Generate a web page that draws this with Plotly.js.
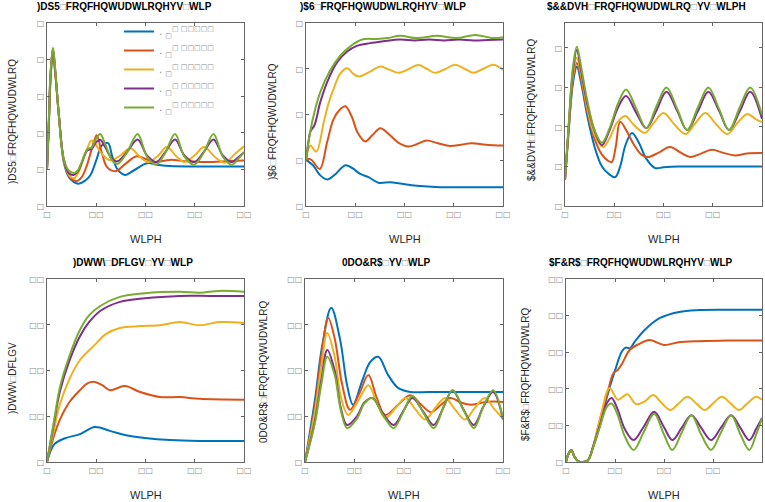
<!DOCTYPE html>
<html><head><meta charset="utf-8">
<script src="https://cdn.plot.ly/plotly-3.0.1.min.js"></script>
<style>html,body{margin:0;padding:0;background:#fff}#chart{width:765px;height:502px}</style>
</head><body><div id="chart"></div>
<script>
// ---------- DATA ----------
const seriesNames = [". <sub>□</sub><sup>□ □□□□□</sup>", ". <sub>□</sub><sup>□ □□□□□</sup>", ". <sub>□</sub><sup>□ □□□□□</sup>", ". <sub>□</sub><sup>□ □□□□□</sup>", ". <sub>□</sub><sup>□ □□□□□</sup>"];
const xTickVals = [0, 10, 20, 30, 40];
const xTickText = ["□", "□□", "□□", "□□", "□□"];

// Panel 1: FapR
const fapR_t_blue = [0,0.35,0.7,1.2,1.7,2.4,3.4,4.4,5.4,6.4,7.6,8.8,10.1,11.1,12.4,13.2,14.3,15.9,17.6,20.3,22.3,25,30,35,40];
const fapR_blue   = [1,2.1,3.4,4.2,3.6,2.5,1.2,0.8,0.66,0.61,0.68,0.84,1.29,1.65,1.72,1.38,1.0,0.85,0.97,1.17,1.13,1.09,1.08,1.08,1.08];
const fapR_t_orange = [0,0.35,0.7,1.2,1.7,2.4,3.4,4.4,5.2,6.1,7.1,8.1,9.5,10.1,11.1,12.2,13.9,15.9,18.2,20.3,22,25,28.4,32.4,37.2,40];
const fapR_orange   = [1,2.15,3.45,4.25,3.6,2.5,1.25,0.85,0.72,0.68,0.8,1.11,1.75,1.93,1.47,1.06,0.95,1.15,1.36,1.27,1.2,1.26,1.22,1.2,1.23,1.24];
const fapR_t_yellow = [0,0.35,0.7,1.2,1.7,2.4,3.4,4.4,5.5,6.5,7.4,8.4,9,9.8,11.1,12.8,14.9,16.9,18.9,20.6,22.6,24.3,26.4,28,30.1,31.9,34.1,36.1,38.2,40];
const fapR_yellow   = [1,2.2,3.5,4.28,3.6,2.5,1.25,0.86,0.76,0.95,1.29,1.65,1.79,1.7,1.43,1.25,1.38,1.58,1.34,1.2,1.38,1.61,1.34,1.2,1.4,1.61,1.34,1.18,1.43,1.63];
const fapR_t_purple = [0,0.35,0.7,1.2,1.7,2.4,3.4,4.4,5.4,6.3,7.1,8.2,9.1,10,10.8,11.8,13.2,14.3,16.2,18.4,20.3,22.2,24,26,27.9,29.9,31.8,33.8,35.7,37.5,38.9,40];
const fapR_purple   = [1,2.2,3.55,4.3,3.65,2.5,1.28,0.9,0.85,0.95,1.2,1.52,1.56,1.75,1.81,1.61,1.29,1.22,1.47,1.82,1.38,1.2,1.47,1.82,1.38,1.2,1.47,1.82,1.38,1.2,1.34,1.47];
const fapR_t_green = [0,0.35,0.7,1.2,1.7,2.4,3.4,4.4,5.6,6.3,7.1,8.2,9.1,10,10.8,11.8,13.2,14.3,16.2,18.4,20.3,22.2,24,26,27.9,29.9,31.8,33.8,35.7,37.5,38.9,40];
const fapR_green   = [1,2.25,3.6,4.32,3.7,2.47,1.29,0.97,0.9,0.98,1.22,1.55,1.6,1.85,1.97,1.7,1.25,1.15,1.45,1.97,1.35,1.13,1.45,1.97,1.35,1.13,1.45,1.97,1.35,1.13,1.3,1.47];

// Panel 2: FAS
const fas_t_blue = [0,0.5,1.5,2.8,4.3,5.8,8,9.5,11,12.7,14.7,17.1,19.1,22.5,27.2,32,40];
const fas_blue   = [1,0.97,0.88,0.68,0.58,0.68,0.89,0.82,0.7,0.63,0.51,0.52,0.49,0.44,0.41,0.41,0.41];
const fas_t_orange = [0,0.5,1.2,2.8,4.3,5.6,7,8,9.3,10.5,12,13.5,15.1,17,18.8,20.8,22.7,24.5,26.8,29.3,31.5,33.6,36.5,40];
const fas_orange   = [1,1.03,1.0,0.81,1.4,1.9,2.12,2.18,1.95,1.6,1.41,1.55,1.7,1.55,1.38,1.3,1.36,1.43,1.37,1.31,1.34,1.37,1.34,1.32];
const fas_t_yellow = [0,0.5,0.9,2.1,3.6,4.6,5.6,7,8.4,9.5,10.7,12.9,15.1,16.9,18.8,20.8,22.8,24.5,26.2,28.2,30.3,32.2,34,36,38,40];
const fas_yellow   = [1,1.25,1.32,1.19,1.83,2.25,2.56,2.9,3.01,2.9,2.83,2.93,3.05,2.98,2.91,2.99,3.08,3.0,2.91,2.99,3.09,3.0,2.91,3.0,3.09,2.98];
const fas_t_purple = [0,0.5,0.9,1.7,2.9,4.3,6.3,8.3,10.3,13,15.7,19.1,22,25,28,31,34,37,40];
const fas_purple   = [1,1.4,1.63,1.76,2.27,2.71,3.14,3.37,3.5,3.56,3.6,3.64,3.62,3.64,3.62,3.64,3.62,3.63,3.64];
const fas_t_green = [0,0.5,1.55,2.9,4.9,7,9,11.4,14.4,16.5,19.1,22.5,26.6,30.6,34.3,38,40];
const fas_green   = [1,1.4,1.98,2.49,2.96,3.29,3.49,3.64,3.65,3.67,3.72,3.67,3.72,3.67,3.74,3.67,3.69];

// Panel 3: ACCase
const acc_t_blue = [0,0.8,1.6,2.4,3.3,4.5,6,7.5,9,10.2,11.2,12.3,13.6,15,16.5,18.3,20,23,28,34,40];
const acc_blue   = [0.66,2.0,3.1,3.52,3.1,2.3,1.5,1.0,0.8,0.73,1.0,1.55,1.85,1.6,1.2,0.96,0.98,1.0,1.0,1.0,1.0];
const acc_t_orange = [0,0.8,1.6,2.4,3.3,4.5,6,7.5,8.7,9.5,10.3,11.2,12.5,14,15.5,16.9,19,21.3,23.5,25.4,27.5,29.8,32,34.5,37,40];
const acc_orange   = [0.66,2.0,3.2,3.62,3.2,2.4,1.7,1.3,1.15,1.11,1.5,2.13,1.9,1.55,1.3,1.24,1.35,1.49,1.35,1.24,1.32,1.42,1.35,1.28,1.33,1.34];
const acc_t_yellow = [0,0.8,1.6,2.4,3.3,4.5,6,7.7,9,10.5,12.2,14,16.2,18,20,22.3,24.5,26.5,28.5,30.8,33,35,37,38.7,40];
const acc_yellow   = [0.66,2.1,3.3,3.75,3.3,2.5,1.8,1.49,1.7,2.1,2.28,2.05,1.85,2.1,2.35,2.05,1.82,2.1,2.35,2.05,1.82,2.1,2.33,2.2,2.12];
const acc_t_purple = [0,0.8,1.6,2.4,3.3,4.5,6,7.5,9,10.8,12.4,14.5,16.5,18.5,20.6,22.8,24.8,27,29.1,31.3,33.3,35.5,37.6,40];
const acc_purple   = [0.66,2.1,3.4,3.95,3.4,2.6,1.9,1.54,1.9,2.5,2.78,2.35,1.97,2.4,2.89,2.4,1.92,2.4,2.89,2.4,1.92,2.4,2.89,2.2];
const acc_t_green = [0,0.8,1.6,2.4,3.3,4.5,6,7.5,9,10.8,12.4,14.5,16.5,18.5,20.6,22.8,24.8,27,29.1,31.3,33.3,35.5,37.6,40];
const acc_green   = [0.66,2.15,3.5,4.03,3.5,2.68,1.92,1.6,1.95,2.6,2.95,2.45,1.97,2.5,3.0,2.45,1.92,2.5,3.0,2.45,1.92,2.5,3.0,2.3];

// Panel 4: Fatty acids
const fa_t_blue = [0,1.5,3.7,6.7,9.7,12.8,15.8,19.9,25,31,40];
const fa_blue   = [0,3.9,5.2,6.1,7.65,6.8,5.9,5.25,4.8,4.6,4.6];
const fa_t_orange = [0,1.5,2.6,4.5,6.7,8.2,9.7,11.2,12.8,15.8,18.9,22.9,27,31,40];
const fa_orange   = [0,6,9.2,13,15.7,17.2,17.5,16.8,15.7,16.6,15.3,14.2,14.2,13.8,13.6];
const fa_t_yellow = [0,1.5,2.6,4.5,6.7,9.7,12,14.8,18.9,22.9,27,31,35,40];
const fa_yellow   = [0,7.5,12.5,18,22.3,25.6,28,29.3,29.7,29.9,30.6,29.9,30.6,30.4];
const fa_t_purple = [0,1.5,2.6,4.5,6.7,8.5,10.8,14.8,19.9,27,33,40];
const fa_purple   = [0,9,15.3,22,27.5,30.5,33,35,35.8,36.3,36.3,36.3];
const fa_t_green = [0,1.5,2.6,4.5,6.7,8.5,10.8,14.8,19.9,27,31,35,40];
const fa_green   = [0,9.5,16.2,23,28.9,32,34.1,36.1,36.9,37.2,37.0,37.4,37.2];

// Panel 5: MalCoA
const mal_t_blue = [0,2,3.5,5.3,7.1,8.5,9.7,11.6,13.2,14.8,16.8,18.8,21.3,25,30,35,40];
const mal_blue   = [0,13.5,25.6,33.7,26.7,16.8,12.5,17.9,21.9,23,19,16.2,15.3,15.3,15.3,15.3,15.3];
const mal_t_orange = [0,2,3.4,4.7,6,7.5,9.1,11,12.8,14.5,16.2,18.8,21.3,23.5,25.4,27.5,29.4,31.5,33.5,36,38,40];
const mal_orange   = [0,12,24,31.5,27,17,11.4,15,19,14,10.3,12.5,14.6,12.5,10.9,12.5,14,13,12.5,13,13.2,13.1];
const mal_t_yellow = [0,2,3.3,4.5,6,7.3,8.7,10.8,12.8,14.5,16.2,18.3,20.3,22.3,24.3,26.3,28.3,30.3,32.3,34.3,36.3,38.3,40];
const mal_yellow   = [0,11,21,28.2,23,14,10.3,13.5,16.8,13,9.6,11.8,14,11.5,9.3,11.8,14,11.5,9.3,11.8,14,11.5,9.5];
const mal_t_purple = [0,2,3.3,4.5,6,7.2,8.5,10.5,12,13.6,15.8,17.9,19.8,21.7,23.9,26,28,29.8,32,34.1,36,38,40];
const mal_purple   = [0,9,18,24.5,20,12,8.1,10,13,14,10.5,8.1,11,14,11,8.1,12,15.7,11.5,8.1,12,15.3,9.3];
const mal_t_green = [0,2,3.3,4.5,6,7.2,8.5,10.5,12,13.6,15.8,17.9,19.8,21.7,23.9,26,28,29.8,32,34.1,36,38,40];
const mal_green   = [0,8.5,17,23,19,11.5,7.4,9.5,12.8,14,10.2,7.4,10.8,14.4,10.8,7.4,12,15.7,11.5,7.4,12,15.7,9.5];

// Panel 6: AcCoA
const ac_t_blue = [0,0.5,1.1,1.7,2.5,3.5,4.5,5.5,6.9,8.3,10,11.4,12.2,13,14,16,19.1,23.1,27.2,32,40];
const ac_blue   = [0,2.2,3.3,1.5,0.2,0,0.5,4,10,17.5,25,30.2,31.3,31,32.8,36,39.3,41,41.5,41.6,41.6];
const ac_t_orange = [0,0.5,1.1,1.7,2.5,3.5,4.5,5.5,6.9,8.3,9.7,10.6,11.5,13,15,17,20,23,27,33,40];
const ac_orange   = [0,2.2,3.3,1.5,0.2,0,0.5,4,11.5,18,24.3,25.2,27,30.6,32.3,33.3,32,32.7,33,33.2,33.2];
const ac_t_yellow = [0,0.5,1.1,1.7,2.5,3.5,4.5,5.5,6.9,8.9,10.6,12.5,14.3,16,17.8,19.6,21.3,23,24.8,26.6,28.3,30,31.8,33.6,35.3,37,38.8,40];
const ac_yellow   = [0,2.2,3.3,1.5,0.2,0,0.5,4,11.5,20.2,17,18.5,15.8,16.5,18.3,16,14.2,16,17.8,16,14.2,16,17.8,16,14.2,16,17.8,17];
const ac_t_purple = [0,0.5,1.1,1.7,2.5,3.5,4.5,5.5,6.9,8.3,9.3,10.5,12,13.8,15.8,18,20,21.7,23.6,25.6,27.6,29.6,31.6,33.7,35.6,37.4,38.8,40];
const ac_purple   = [0,2.2,3.3,1.5,0.2,0,0.5,4,10,16,17.5,14.5,9,6,9.5,13.7,9.5,6,9.3,12.8,9.3,6,9.3,12.8,9.3,6,9,12];
const ac_t_green = [0,0.5,1.1,1.7,2.5,3.5,4.5,5.5,6.9,8.3,9.3,10.5,12,13.8,15.8,18,20,21.7,23.6,25.6,27.6,29.6,31.6,33.7,35.6,37.4,38.8,40];
const ac_green   = [0,2.2,3.3,1.5,0.2,0,0.5,3.8,9.5,15,16,13,7,3.3,8,13.2,7.5,3.3,8,12.8,7.5,3.3,8,12.8,7.5,3.3,7.5,12];

const titles = [")DS5□FRQFHQWUDWLRQHYV□WLP", ")$6□FRQFHQWUDWLRQHYV□WLP", "$&&DVH□FRQFHQWUDWLRQ□YV□WLPH",
                ")DWW\\□DFLGV□YV□WLP", "0DO&R$□YV□WLP", "$F&R$□FRQFHQWUDWLRQHYV□WLP"];
const yLabels = [")DS5□FRQFHQWUDWLRQ", ")$6□FRQFHQWUDWLRQ", "$&&DVH□FRQFHQWUDWLRQ",
                 ")DWW\\□DFLGV", "0DO&R$□FRQFHQWUDWLRQ", "$F&R$□FRQFHQWUDWLRQ"];
const xLabel = "WLPH";

const yTicks = [
  {vals:[0,1,2,3,4,5], text:["□","□","□","□","□","□"]},
  {vals:[0,1,2,3,4], text:["□","□","□","□","□"]},
  {vals:[0,1,2,3,4], text:["□","□","□","□","□"]},
  {vals:[0,10,20,30,40], text:["□","□□","□□","□□","□□"]},
  {vals:[0,10,20,30,40], text:["□","□□","□□","□□","□□"]},
  {vals:[0,10,20,30,40,50], text:["□","□□","□□","□□","□□","□□"]}
];

const panelData = [
  [[fapR_t_blue,fapR_blue],[fapR_t_orange,fapR_orange],[fapR_t_yellow,fapR_yellow],[fapR_t_purple,fapR_purple],[fapR_t_green,fapR_green]],
  [[fas_t_blue,fas_blue],[fas_t_orange,fas_orange],[fas_t_yellow,fas_yellow],[fas_t_purple,fas_purple],[fas_t_green,fas_green]],
  [[acc_t_blue,acc_blue],[acc_t_orange,acc_orange],[acc_t_yellow,acc_yellow],[acc_t_purple,acc_purple],[acc_t_green,acc_green]],
  [[fa_t_blue,fa_blue],[fa_t_orange,fa_orange],[fa_t_yellow,fa_yellow],[fa_t_purple,fa_purple],[fa_t_green,fa_green]],
  [[mal_t_blue,mal_blue],[mal_t_orange,mal_orange],[mal_t_yellow,mal_yellow],[mal_t_purple,mal_purple],[mal_t_green,mal_green]],
  [[ac_t_blue,ac_blue],[ac_t_orange,ac_orange],[ac_t_yellow,ac_yellow],[ac_t_purple,ac_purple],[ac_t_green,ac_green]]
];

// ---------- STYLE / LAYOUT ----------
const W = 765, H = 502;
const colors = ['#0072BD','#D95319','#EDB120','#7E2F8E','#77AC30'];
const px = v => v / W, py = v => 1 - v / H;
const boxes = [
  {x:[47,244], y:[23,206], yr:[0,5]},
  {x:[306,503], y:[23,206], yr:[0,4]},
  {x:[565,762], y:[23,206], yr:[0,4.63]},
  {x:[47,244], y:[279,462], yr:[0,40]},
  {x:[305,503], y:[279,462], yr:[0,40]},
  {x:[566,762], y:[279,462], yr:[0,50]}
];
const titlePos = [[124,7],[383,7],[646,7],[133,262],[386,262],[641,262]];
const yLabelPos = [[12,122],[272,122],[531,110],[12,378],[263,372],[525,375]];

const traces = [];
const layout = {
  width: W, height: H, margin: {l:0, r:0, t:0, b:0},
  paper_bgcolor: '#fff', plot_bgcolor: '#fff',
  showlegend: true,
  legend: {x: px(119), y: py(17), xanchor: 'left', yanchor: 'top', bgcolor: 'rgba(0,0,0,0)',
           font: {family: 'DejaVu Sans', size: 10, color: '#8a8a8a'}, tracegroupgap: 5, traceorder: 'normal'},
  annotations: [], font: {family: 'Liberation Sans, Arial, sans-serif'}
};
const tickFont = {family: 'DejaVu Sans', size: 8, color: '#8a8a8a'};

boxes.forEach((b, i) => {
  const n = i + 1;
  const xa = 'xaxis' + (n === 1 ? '' : n), ya = 'yaxis' + (n === 1 ? '' : n);
  const common = {ticks: 'inside', ticklen: 3, tickcolor: '#666', showline: true, linecolor: '#666', linewidth: 1,
                  mirror: 'ticks', showgrid: false, zeroline: false, tickfont: tickFont, fixedrange: true};
  layout[xa] = Object.assign({}, common, {domain: [px(b.x[0]), px(b.x[1])], range: [0, 40],
                 tickmode: 'array', tickvals: xTickVals, ticktext: xTickText, anchor: 'y' + (n === 1 ? '' : n)});
  layout[ya] = Object.assign({}, common, {domain: [py(b.y[1]), py(b.y[0])], range: b.yr,
                 tickmode: 'array', tickvals: yTicks[i].vals, ticktext: yTicks[i].text, anchor: 'x' + (n === 1 ? '' : n)});
  panelData[i].forEach((s, k) => {
    traces.push({x: s[0], y: s[1], type: 'scatter', mode: 'lines',
      xaxis: 'x' + (n === 1 ? '' : n), yaxis: 'y' + (n === 1 ? '' : n),
      line: {color: colors[k], width: 2, shape: 'spline', smoothing: 1},
      name: seriesNames[k], showlegend: i === 0, legendgroup: 'g' + k, hoverinfo: 'skip'});
  });
  const box = '<span style="color:#999">□</span>';
  layout.annotations.push({text: '<b>' + titles[i].split('□').join(box) + '</b>', xref: 'paper', yref: 'paper',
    x: px(titlePos[i][0]), y: py(titlePos[i][1]), xanchor: 'center', yanchor: 'middle', showarrow: false,
    font: {family: 'Liberation Sans', size: 10, color: '#000'}});
  layout.annotations.push({text: yLabels[i].split('□').join(box), xref: 'paper', yref: 'paper', textangle: -90,
    x: px(yLabelPos[i][0]), y: py(yLabelPos[i][1]), xanchor: 'center', yanchor: 'middle', showarrow: false,
    font: {family: 'Liberation Sans', size: 10, color: '#262626'}});
  layout.annotations.push({text: xLabel, xref: 'paper', yref: 'paper',
    x: px((b.x[0] + b.x[1]) / 2), y: py(b.y[1] + 33), xanchor: 'center', yanchor: 'middle', showarrow: false,
    font: {family: 'Liberation Sans', size: 11, color: '#262626'}});
});

Plotly.newPlot('chart', traces, layout, {staticPlot: true, displayModeBar: false});
</script></body></html>
